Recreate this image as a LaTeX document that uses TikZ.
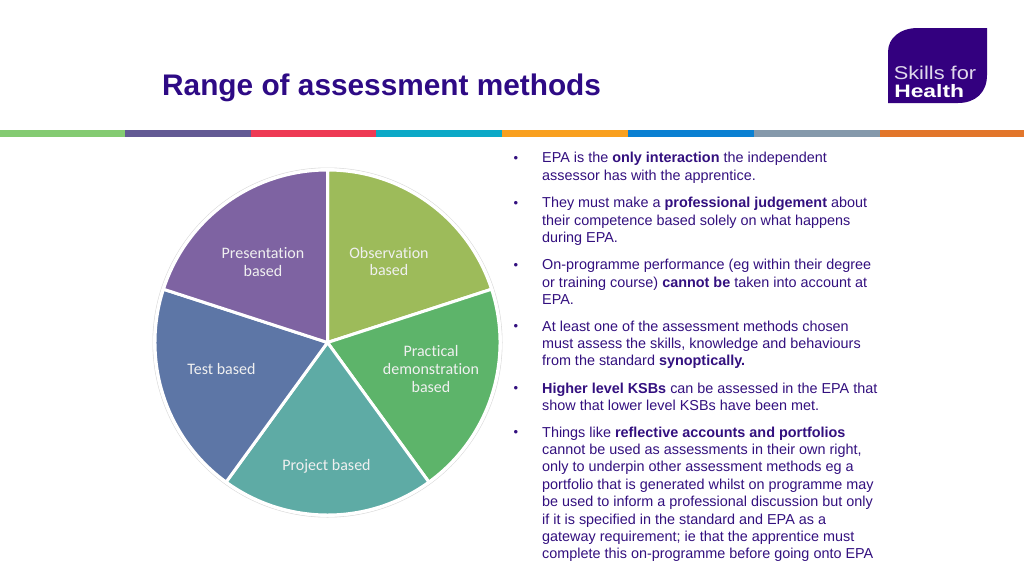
\documentclass[tikz,border=0pt]{standalone}
\usepackage{fontspec}
\setmainfont{Liberation Sans}
\newfontfamily\piefont[Ligatures=NoCommon]{Carlito}
\definecolor{titleblue}{HTML}{2E0A85}
\definecolor{logoblue}{HTML}{33007F}
\definecolor{bodyblue}{HTML}{33107F}
\definecolor{sliceA}{HTML}{9DBB5A}
\definecolor{sliceB}{HTML}{5DB46A}
\definecolor{sliceC}{HTML}{5EABA5}
\definecolor{sliceD}{HTML}{5D76A6}
\definecolor{sliceE}{HTML}{7E63A2}
\definecolor{barA}{HTML}{84CB72}
\definecolor{barB}{HTML}{635A94}
\definecolor{barC}{HTML}{EE3A54}
\definecolor{barD}{HTML}{0BA9C7}
\definecolor{barE}{HTML}{F9A01F}
\definecolor{barF}{HTML}{0A80D2}
\definecolor{barG}{HTML}{8599AB}
\definecolor{barH}{HTML}{E2762B}
\newcommand{\kw}[1]{\textbf{#1}}
\tikzset{
  barseg/.style={fill=#1,draw=none},
  slice/.style={fill=#1,draw=white,line width=3pt,line join=miter},
  pielabel/.style={font=\piefont\fontsize{16}{17.6}\selectfont,text=white!94!black,align=center,inner sep=0pt},
  para/.style={font=\fontsize{14.4}{17.38}\selectfont,text=bodyblue,align=left,anchor=north west,inner sep=0pt},
  bulletmark/.style={font=\fontsize{13}{14}\selectfont,text=bodyblue,anchor=center,inner sep=0pt},
}
\begin{document}
\begin{tikzpicture}[x=1pt,y=1pt]
\useasboundingbox (0,0) rectangle (1024,-576);
\fill[white] (0,0) rectangle (1024,-576);
% colour bar
\path[barseg=barA] (0,-130) rectangle (125,-137);
\path[barseg=barB] (125,-130) rectangle (251,-137);
\path[barseg=barC] (251,-130) rectangle (376,-137);
\path[barseg=barD] (376,-130) rectangle (502,-137);
\path[barseg=barE] (502,-130) rectangle (628,-137);
\path[barseg=barF] (628,-130) rectangle (754,-137);
\path[barseg=barG] (754,-130) rectangle (880,-137);
\path[barseg=barH] (880,-130) rectangle (1024,-137);
% title
\node[anchor=base west,inner sep=0pt,font=\bfseries\fontsize{29.8}{32}\selectfont,text=titleblue] (title) at (162,-95) {Range of assessment methods};
% logo
\fill[logoblue] (888,-103) -- (888,-52) .. controls (888,-38) and (900,-28) .. (918,-28) -- (987,-28) -- (987,-75) .. controls (987,-93) and (975,-103) .. (958,-103) -- cycle;
\node[anchor=base west,inner sep=0pt,text=white!85!logoblue,font=\fontsize{18.5}{20}\selectfont,xscale=1.18,transform shape] (logoa) at (893.5,-79) {Skills for};
\node[anchor=base west,inner sep=0pt,text=white,font=\bfseries\fontsize{18}{20}\selectfont,xscale=1.27,transform shape] (logob) at (894,-97.5) {Health};
% pie
\coordinate (c) at (327.5,-342.5);
\fill[black!14] (c) circle (175);
\fill[white] (c) circle (174.4);
\draw[slice=sliceA] (c) -- ++(90:172.5) arc (90:18:172.5) -- cycle;
\draw[slice=sliceB] (c) -- ++(18:172.5) arc (18:-54:172.5) -- cycle;
\draw[slice=sliceC] (c) -- ++(-54:172.5) arc (-54:-126:172.5) -- cycle;
\draw[slice=sliceD] (c) -- ++(-126:172.5) arc (-126:-198:172.5) -- cycle;
\draw[slice=sliceE] (c) -- ++(162:172.5) arc (162:90:172.5) -- cycle;
\node[pielabel] (obs) at (389,-261.5) {Observation\\based};
\node[pielabel] (prac) at (431,-369) {Practical\\demonstration\\based};
\node[pielabel] (proj) at (326.5,-466.5) {Project based};
\node[pielabel] (test) at (221.5,-369) {Test based};
\node[pielabel] (pres) at (263,-262) {Presentation\\based};
% bullets
\node[bulletmark] (m1) at (516,-159.5) {•};
\node[bulletmark] (m2) at (516,-204) {•};
\node[bulletmark] (m3) at (516,-266) {•};
\node[bulletmark] (m4) at (516,-327.5) {•};
\node[bulletmark] (m5) at (516,-389.5) {•};
\node[bulletmark] (m6) at (516,-433.5) {•};
% text
\node[para] (p1) at (542,-152) {EPA is the \kw{only interaction} the independent\\assessor has with the apprentice.};
\node[para] (p2) at (542,-197) {They must make a \kw{professional judgement} about\\their competence based solely on what happens\\during EPA.};
\node[para] (p3) at (542,-259) {On-programme performance (eg within their degree\\or training course) \kw{cannot be} taken into account at\\EPA.};
\node[para] (p4) at (542,-320.5) {At least one of the assessment methods chosen\\must assess the skills, knowledge and behaviours\\from the standard \kw{synoptically.}};
\node[para] (p5) at (542,-382.5) {\kw{Higher level KSBs} can be assessed in the EPA that\\show that lower level KSBs have been met.};
\node[para] (p6) at (542,-426.5) {Things like \kw{reflective accounts and portfolios}\\cannot be used as assessments in their own right,\\only to underpin other assessment methods eg a\\portfolio that is generated whilst on programme may\\be used to inform a professional discussion but only\\if it is specified in the standard and EPA as a\\gateway requirement; ie that the apprentice must\\complete this on-programme before going onto EPA};
\end{tikzpicture}
\end{document}
